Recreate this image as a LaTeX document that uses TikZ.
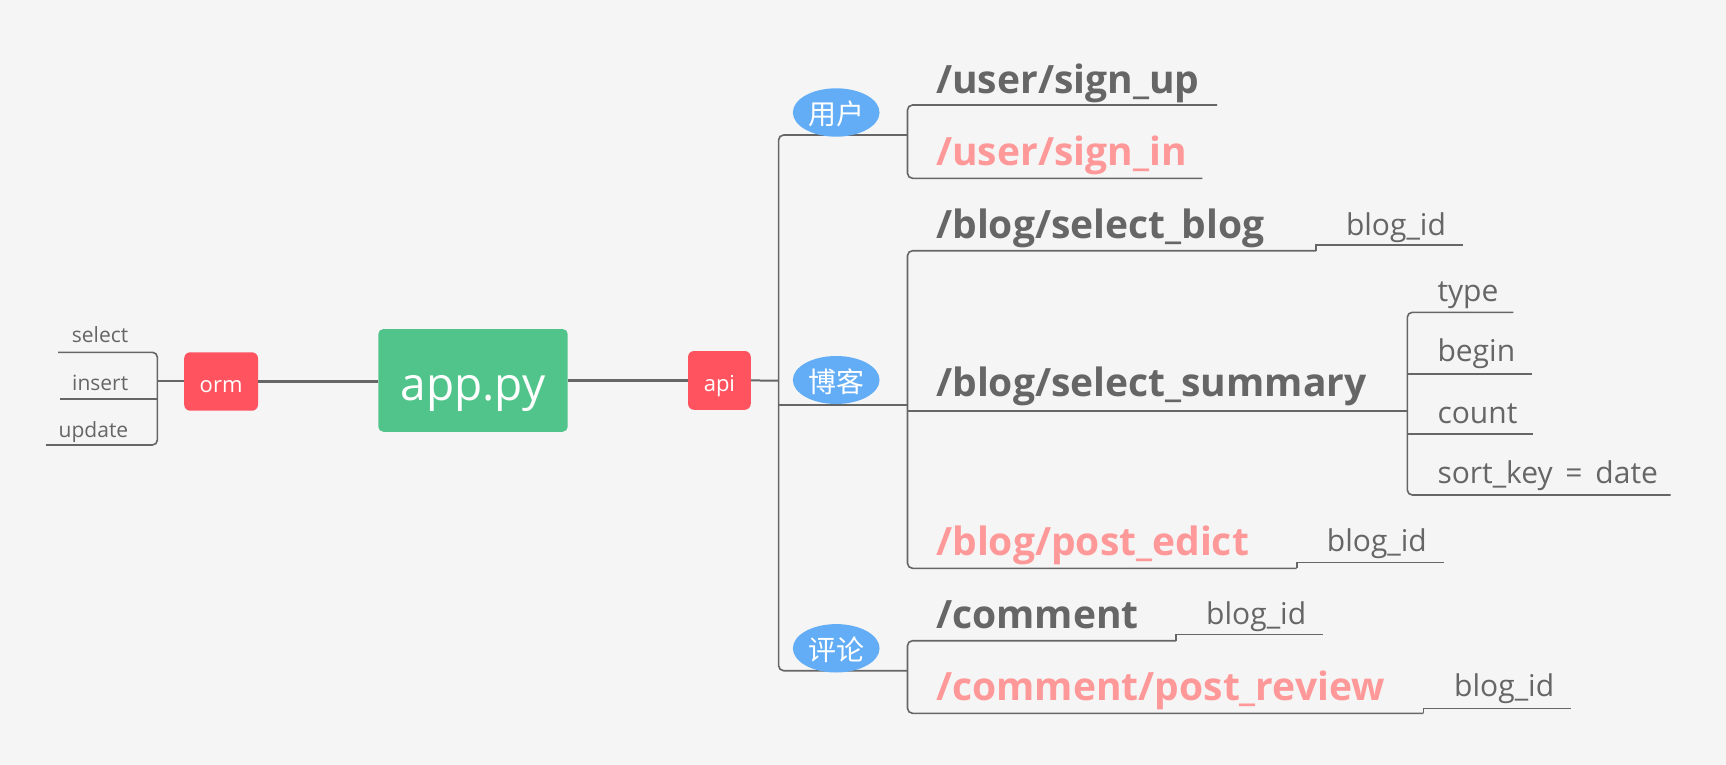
\documentclass[tikz,border=0pt]{standalone}
\usepackage{fontspec}
\setmainfont{Open Sans}
\newfontfamily\cjk{Noto Sans CJK SC}
\usetikzlibrary{shapes.geometric}
\definecolor{bg}{HTML}{F5F5F5}
\definecolor{ln}{HTML}{666666}
\definecolor{txt}{HTML}{666666}
\definecolor{pinktxt}{HTML}{FF9999}
\definecolor{redbox}{HTML}{FF545F}
\definecolor{greenbox}{HTML}{51C48B}
\definecolor{bluebox}{HTML}{63ADF6}
\newcommand{\low}[2]{\raisebox{-#1}[0pt][0pt]{#2}}
\tikzset{
  conn/.style={draw=ln, line width=1.6pt, rounded corners=5pt},
  thickconn/.style={draw=ln, line width=3pt},
  redbox/.style={rectangle, fill=redbox, rounded corners=6pt, text=white, inner sep=0pt, font=\fontsize{22}{22}\selectfont},
  bubble/.style={ellipse, fill=bluebox, text=white, inner sep=0pt, minimum width=86.7pt, minimum height=48.4pt, font=\cjk\fontsize{28}{28}\selectfont},
  title/.style={anchor=base west, inner sep=0pt, text=txt, font=\bfseries\fontsize{39}{39}\selectfont},
  hot/.style={text=pinktxt},
  param/.style={anchor=base west, inner sep=0pt, text=txt, font=\fontsize{30}{30}\selectfont},
  small/.style={anchor=base east, inner sep=0pt, text=txt, font=\fontsize{21}{21}\selectfont}
}
\begin{document}
\begin{tikzpicture}[x=1pt,y=-1pt]
\fill[bg] (0,0) rectangle (1726,765);
\useasboundingbox (0,0) rectangle (1726,765);

% central nodes
\node[rectangle, fill=greenbox, rounded corners=5pt, minimum width=189.4pt, minimum height=102.7pt, inner sep=0pt, text=white, font=\fontsize{46}{46}\selectfont] (app) at (473,380.4) {\low{19.6pt}{app.py}};
\node[redbox, minimum width=73.8pt, minimum height=58.4pt] (orm) at (221.1,381.5) {\low{10.8pt}{orm}};
\node[redbox, minimum width=62.7pt, minimum height=58.8pt] (api) at (719.4,380.4) {\low{10.6pt}{api}};

\draw[thickconn] (orm.east) -- (orm.east -| app.west);
\draw[thickconn] (app.east) -- (api.west);

% orm children
\node[small] (sel) at (128.4,342.3) {select};
\node[small] (ins) at (128.4,390) {insert};
\node[small] (upd) at (128.4,437.3) {update};
\coordinate (ob) at (157.4,381);
\draw[conn] (58,352.3) -- (157.4,352.3) -- (157.4,445) -- (46,445);
\draw[conn] (59.9,398.7) -- (157.4,398.7);
\draw[conn] (ob) -- (ob -| orm.west);

% api tree
\coordinate (mv) at (778.6,380.7);
\coordinate (uj) at (907.5,135);
\coordinate (bj) at (907.5,405);
\coordinate (cj) at (907.5,670.7);
\draw[conn, line width=2pt] (api.east) -- (mv);
\draw[conn] (uj) -- (778.6,135) -- (778.6,670.7) -- (cj);
\draw[conn] (778.6,405) -- (bj);

\node[bubble] (user) at (836.2,112.5) {\low{12.5pt}{用户}};
\node[bubble, minimum height=48pt] (blog) at (836.2,380) {\low{12.5pt}{博客}};
\node[bubble] (cmt) at (836.2,648.3) {\low{12.5pt}{评论}};

% user branch
\node[title] (su) at (936,93.3) {/user/sign\_up};
\node[title, hot] (si) at (936,165) {/user/sign\_in};
\draw[conn] (1217,105) -- (907.5,105) -- (907.5,178.3) -- (1202.3,178.3);

% blog branch
\node[title] (sb) at (936,238.3) {/blog/select\_blog};
\node[param] (sbid) at (1345.8,235) {blog\_id};
\node[title] (ss) at (936,396) {/blog/select\_summary};
\node[title, hot] (pe) at (936,555) {/blog/post\_edict};
\node[param] (peid) at (1326.7,551.7) {blog\_id};
\draw[conn] (1316,250.7) -- (907.5,250.7) -- (907.5,568.3) -- (1296.7,568.3);
\draw[conn, rounded corners=0pt] (1316,250.7) -- (1316,244.7) -- (1463.3,244.7);
\draw[conn, rounded corners=0pt] (1296.7,568.3) -- (1296.7,562.3) -- (1444.3,562.3);
\draw[conn] (907.5,411) -- (1407.3,411);

% summary params
\node[param] (ty) at (1437.3,301.7) {type};
\node[param] (be) at (1437.3,361.7) {begin};
\node[param] (co) at (1437.3,423.3) {count};
\node[param] (sk) at (1437.3,483.3) {sort\_key\ \,=\ \,date};
\draw[conn] (1513.3,312.3) -- (1407.3,312.3) -- (1407.3,495) -- (1670.7,495);
\draw[conn] (1407.3,373.7) -- (1531.7,373.7);
\draw[conn] (1407.3,433.7) -- (1532.7,433.7);

% comment branch
\node[title] (cm) at (936,628.3) {/comment};
\node[param] (cmid) at (1206,624) {blog\_id};
\node[title, hot] (pr) at (936,700) {/comment/post\_review};
\node[param] (prid) at (1454,696.7) {blog\_id};
\draw[conn] (1176,640.7) -- (907.5,640.7) -- (907.5,713.3) -- (1423.3,713.3);
\draw[conn, rounded corners=0pt] (1176,640.7) -- (1176,634.3) -- (1323.3,634.3);
\draw[conn, rounded corners=0pt] (1423.3,713.3) -- (1423.3,708.3) -- (1571,708.3);
\end{tikzpicture}
\end{document}
